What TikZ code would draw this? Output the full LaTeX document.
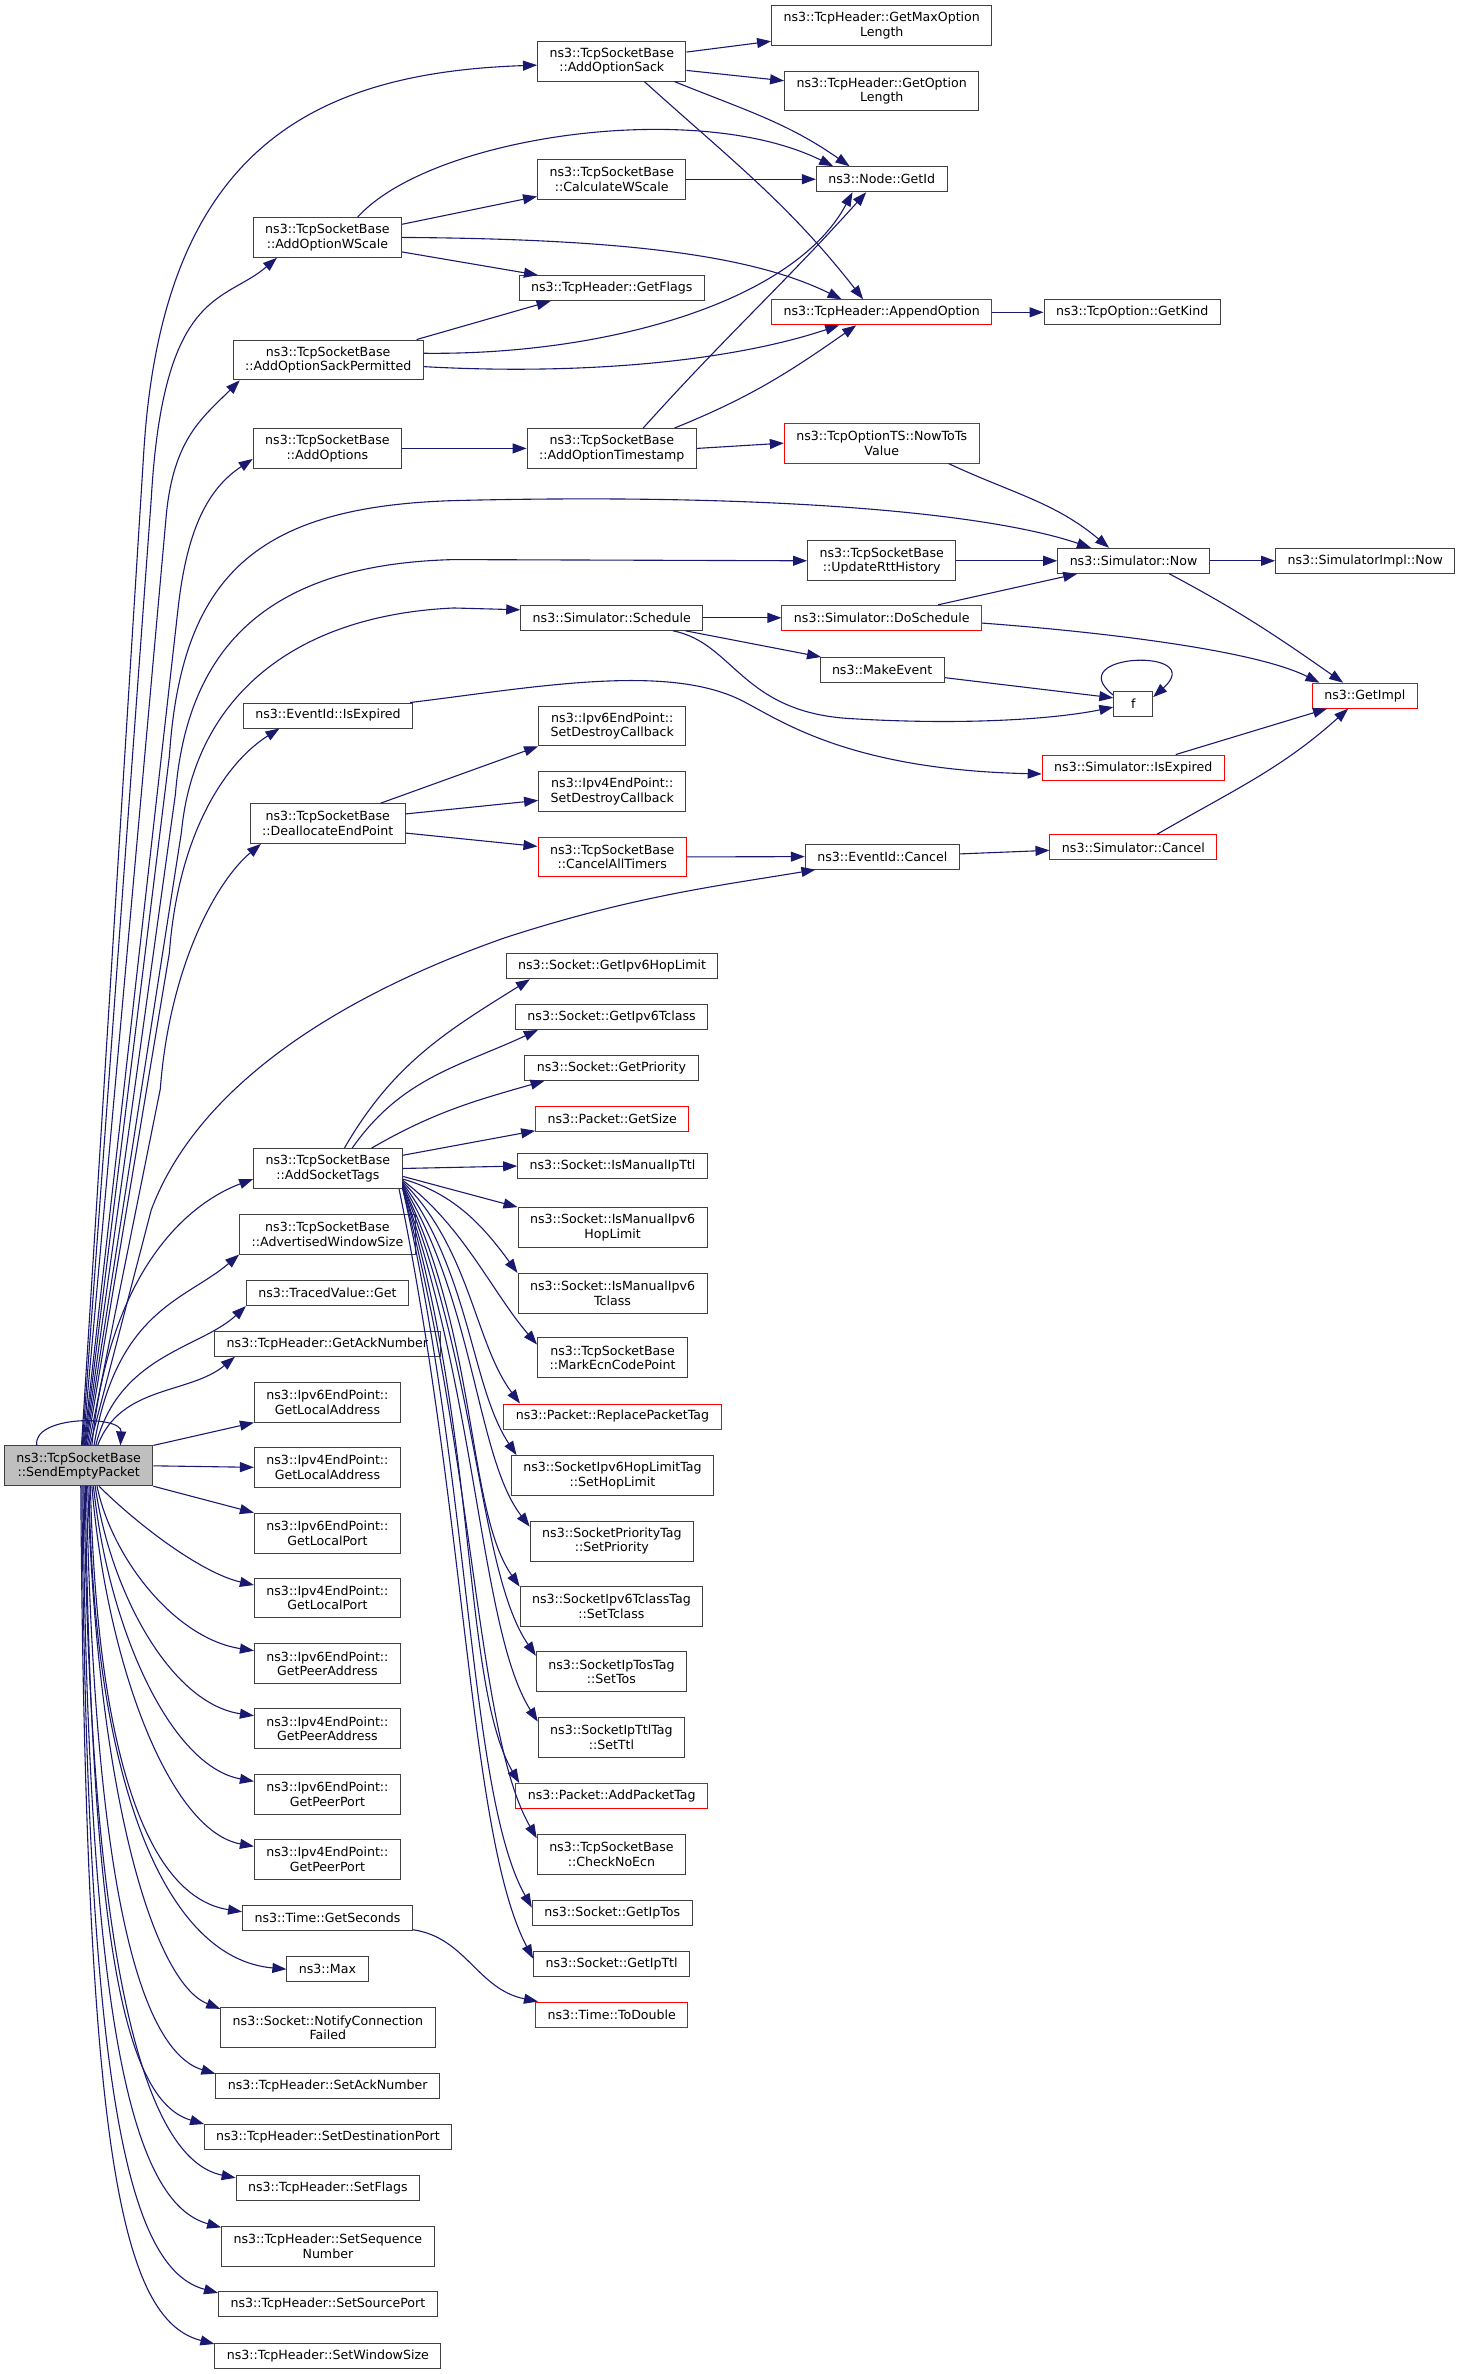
\documentclass[tikz,border=0pt]{standalone}
\usepackage{fontspec}
\setmainfont{DejaVu Sans}
\usetikzlibrary{arrows.meta}
\definecolor{edgeblue}{HTML}{191970}
\definecolor{boxline}{HTML}{404040}
\definecolor{rootfill}{HTML}{BFBFBF}
\newcommand{\fnfont}{\fontsize{6.3pt}{7.25pt}\selectfont}
\begin{document}
\begin{tikzpicture}[
		x=0.756pt,y=0.756pt,
		fn/.style={draw=boxline,line width=0.5pt,font=\fnfont,align=center,inner xsep=6pt,inner ysep=3pt,minimum height=12.5pt},
		fnred/.style={fn,draw=red},
		fnroot/.style={fn,fill=rootfill},
		two/.style={minimum height=19.9pt},
		call/.style={draw=edgeblue,line width=0.55pt,-{Triangle[length=7pt,width=5pt]}}
	]
	\useasboundingbox (0,0) rectangle (966.3,-1569.7);
	\node[fnroot,two] (send) at (52,-969.2) {ns3::TcpSocketBase\\::SendEmptyPacket};

	\node[fn,two] (wscale) at (216.5,-157) {ns3::TcpSocketBase\\::AddOptionWScale};
	\node[fn,two] (sackperm) at (217,-238) {ns3::TcpSocketBase\\::AddOptionSackPermitted};
	\node[fn,two] (addopts) at (216.5,-296.5) {ns3::TcpSocketBase\\::AddOptions};
	\node[fn] (isexp) at (216.9,-473.1) {ns3::EventId::IsExpired};
	\node[fn,two] (dealloc) at (216.7,-544.5) {ns3::TcpSocketBase\\::DeallocateEndPoint};
	\node[fn,two] (socktags) at (216.8,-772.6) {ns3::TcpSocketBase\\::AddSocketTags};
	\node[fn,two] (advwin) at (216.5,-816) {ns3::TcpSocketBase\\::AdvertisedWindowSize};
	\node[fn] (traced) at (216.5,-855) {ns3::TracedValue::Get};
	\node[fn] (getack) at (216.5,-888.5) {ns3::TcpHeader::GetAckNumber};
	\node[fn,two] (v6laddr) at (216.5,-927.1) {ns3::Ipv6EndPoint::\\GetLocalAddress};
	\node[fn,two] (v4laddr) at (216.5,-970.2) {ns3::Ipv4EndPoint::\\GetLocalAddress};
	\node[fn,two] (v6lport) at (216.5,-1013.7) {ns3::Ipv6EndPoint::\\GetLocalPort};
	\node[fn,two] (v4lport) at (216.5,-1056.6) {ns3::Ipv4EndPoint::\\GetLocalPort};
	\node[fn,two] (v6paddr) at (216.5,-1100) {ns3::Ipv6EndPoint::\\GetPeerAddress};
	\node[fn,two] (v4paddr) at (216.5,-1143) {ns3::Ipv4EndPoint::\\GetPeerAddress};
	\node[fn,two] (v6pport) at (216.5,-1186.4) {ns3::Ipv6EndPoint::\\GetPeerPort};
	\node[fn,two] (v4pport) at (216.5,-1229.4) {ns3::Ipv4EndPoint::\\GetPeerPort};
	\node[fn] (getsec) at (216.5,-1268) {ns3::Time::GetSeconds};
	\node[fn] (max) at (216.5,-1302) {ns3::Max};
	\node[fn,two] (notify) at (216.8,-1340.8) {ns3::Socket::NotifyConnection\\Failed};
	\node[fn] (setack) at (216.7,-1379) {ns3::TcpHeader::SetAckNumber};
	\node[fn] (setdst) at (216.8,-1413) {ns3::TcpHeader::SetDestinationPort};
	\node[fn] (setflags) at (216.8,-1446.4) {ns3::TcpHeader::SetFlags};
	\node[fn,two] (setseq) at (216.8,-1485.2) {ns3::TcpHeader::SetSequence\\Number};
	\node[fn] (setsrc) at (216.8,-1523.7) {ns3::TcpHeader::SetSourcePort};
	\node[fn] (setwin) at (216.8,-1557.7) {ns3::TcpHeader::SetWindowSize};

	\node[fn,two] (sack) at (404.5,-40.5) {ns3::TcpSocketBase\\::AddOptionSack};
	\node[fn,two] (calcws) at (404.5,-118.5) {ns3::TcpSocketBase\\::CalculateWScale};
	\node[fn] (getflags) at (404.5,-190.5) {ns3::TcpHeader::GetFlags};
	\node[fn,two] (optts) at (404.5,-296.5) {ns3::TcpSocketBase\\::AddOptionTimestamp};
	\node[fn] (sched) at (404.5,-408.5) {ns3::Simulator::Schedule};
	\node[fn,two] (v6destroy) at (404.8,-480) {ns3::Ipv6EndPoint::\\SetDestroyCallback};
	\node[fn,two] (v4destroy) at (404.8,-523.2) {ns3::Ipv4EndPoint::\\SetDestroyCallback};
	\node[fnred,two] (cancelall) at (404.8,-566.6) {ns3::TcpSocketBase\\::CancelAllTimers};
	\node[fn] (hoplim) at (404.7,-638.9) {ns3::Socket::GetIpv6HopLimit};
	\node[fn] (tclass) at (404.4,-672.4) {ns3::Socket::GetIpv6Tclass};
	\node[fn] (prio) at (404.3,-706) {ns3::Socket::GetPriority};
	\node[fnred] (getsize) at (404.8,-739.6) {ns3::Packet::GetSize};
	\node[fn] (manttl) at (405,-771) {ns3::Socket::IsManualIpTtl};
	\node[fn,two] (manhop) at (405,-811.5) {ns3::Socket::IsManualIpv6\\HopLimit};
	\node[fn,two] (mantcl) at (405,-855) {ns3::Socket::IsManualIpv6\\Tclass};
	\node[fn,two] (markecn) at (405,-897.8) {ns3::TcpSocketBase\\::MarkEcnCodePoint};
	\node[fnred] (replace) at (405,-936.6) {ns3::Packet::ReplacePacketTag};
	\node[fn,two] (sethop) at (405,-975.6) {ns3::SocketIpv6HopLimitTag\\::SetHopLimit};
	\node[fn,two] (setprio) at (404.6,-1019) {ns3::SocketPriorityTag\\::SetPriority};
	\node[fn,two] (settcl) at (404.3,-1062) {ns3::SocketIpv6TclassTag\\::SetTclass};
	\node[fn,two] (settos) at (404.3,-1105.4) {ns3::SocketIpTosTag\\::SetTos};
	\node[fn,two] (setttl) at (404.3,-1148.7) {ns3::SocketIpTtlTag\\::SetTtl};
	\node[fnred] (addtag) at (404.5,-1187.5) {ns3::Packet::AddPacketTag};
	\node[fn,two] (noecn) at (404.3,-1226) {ns3::TcpSocketBase\\::CheckNoEcn};
	\node[fn] (iptos) at (404.8,-1265) {ns3::Socket::GetIpTos};
	\node[fn] (ipttl) at (404.4,-1298.7) {ns3::Socket::GetIpTtl};
	\node[fnred] (todouble) at (404.5,-1332) {ns3::Time::ToDouble};

	\node[fn,two] (maxlen) at (583,-17) {ns3::TcpHeader::GetMaxOption\\Length};
	\node[fn,two] (optlen) at (583,-60.2) {ns3::TcpHeader::GetOption\\Length};
	\node[fn] (nodeid) at (583,-118.5) {ns3::Node::GetId};
	\node[fnred] (append) at (583,-206.5) {ns3::TcpHeader::AppendOption};
	\node[fnred,two] (nowts) at (583,-293) {ns3::TcpOptionTS::NowToTs\\Value};
	\node[fn,two] (rtt) at (583,-370.8) {ns3::TcpSocketBase\\::UpdateRttHistory};
	\node[fnred] (dosched) at (583,-408.5) {ns3::Simulator::DoSchedule};
	\node[fn] (mkevent) at (583.3,-443) {ns3::MakeEvent};
	\node[fn] (evcancel) at (583.4,-566.4) {ns3::EventId::Cancel};

	\node[fn] (getkind) at (748.6,-206.5) {ns3::TcpOption::GetKind};
	\node[fn] (now) at (749.5,-370.8) {ns3::Simulator::Now};
	\node[fn,minimum width=19.4pt] (f) at (749.3,-465.2) {f};
	\node[fnred] (simexp) at (749.3,-507.5) {ns3::Simulator::IsExpired};
	\node[fnred] (simcancel) at (749.4,-560.3) {ns3::Simulator::Cancel};
	\node[fn] (implnow) at (902.7,-370.8) {ns3::SimulatorImpl::Now};
	\node[fnred] (getimpl) at (902.4,-460) {ns3::GetImpl};

	\draw[call] (send.154) .. controls +(-3,20) and +(1,20) .. (send.26);
	\draw[call] (send.82) -- (95,-300) .. controls +(12,200) and +(-150,-5) .. (sack.183);
	\draw[call] (send.80) -- (100,-330) .. controls +(8,140) and +(-35,-30) .. (wscale.202);
	\draw[call] (send.78) -- (110,-340) .. controls +(5,50) and +(-25,-25) .. (sackperm.193);
	\draw[call] (send.76) -- (118,-400) .. controls +(6,50) and +(-30,-20) .. (addopts.188);
	\draw[call] (send.74) -- (112,-500) .. controls (120,-380) and (170,-335) .. (300,-331) .. controls (500,-326) and (650,-338) .. (now.163);
	\draw[call] (send.72) -- (116,-525) .. controls (124,-425) and (180,-373) .. (300,-370) -- (rtt.west);
	\draw[call] (send.70) -- (120,-550) .. controls (128,-465) and (190,-407) .. (300,-402) -- (sched.175);
	\draw[call] (send.67) -- (112,-630) .. controls +(6,80) and +(-35,-22) .. (isexp.195);
	\draw[call] (send.64) -- (106,-720) .. controls +(6,80) and +(-30,-25) .. (dealloc.197);
	\draw[call] (send.61) -- (100,-800) .. controls (130,-720) and (220,-660) .. (334,-620) .. controls (420,-592) and (480,-585) .. (evcancel.191);
	\draw[call] (send.57) .. controls +(12,120) and +(-40,-15) .. (socktags.188);
	\draw[call] (send.53) .. controls +(15,90) and +(-35,-30) .. (advwin.south west);
	\draw[call] (send.50) .. controls +(15,60) and +(-30,-28) .. (traced.south west);
	\draw[call] (send.47) .. controls +(15,40) and +(-30,-25) .. (getack.188);
	\draw[call] (send.north east) -- (v6laddr.south west);
	\draw[call] (send.east) -- (v4laddr.west);
	\draw[call] (send.south east) -- (v6lport.north west);
	\draw[call] (send.-45) .. controls +(25,-25) and +(-35,8) .. (v4lport.170);
	\draw[call] (send.-48) .. controls +(10,-48) and +(-52,8) .. (v6paddr.170);
	\draw[call] (send.-51) .. controls +(10,-70) and +(-55,8) .. (v4paddr.170);
	\draw[call] (send.-54) .. controls +(10,-95) and +(-55,10) .. (v6pport.170);
	\draw[call] (send.-57) .. controls +(10,-120) and +(-55,10) .. (v4pport.170);
	\draw[call] (send.-60) .. controls +(4,-170) and +(-65,10) .. (getsec.176);
	\draw[call] (send.-63) .. controls +(3,-197) and +(-80,7) .. (max.west);
	\draw[call] (send.-66) .. controls +(6,-200) and +(-45,18) .. (notify.170);
	\draw[call] (send.-69) .. controls +(5,-255) and +(-52,16) .. (setack.174);
	\draw[call] (send.-72) .. controls +(4,-290) and +(-55,16) .. (setdst.174);
	\draw[call] (send.-75) .. controls +(4,-320) and +(-60,12) .. (setflags.174);
	\draw[call] (send.-78) .. controls +(3,-360) and +(-58,16) .. (setseq.170);
	\draw[call] (send.-81) .. controls +(3,-400) and +(-60,16) .. (setsrc.174);
	\draw[call] (send.-84) .. controls +(3,-440) and +(-62,16) .. (setwin.174);

	\draw[call] (sack.7) -- (maxlen.188);
	\draw[call] (sack.-7) -- (optlen.174);
	\draw[call] (sack.-18) to[out=-22,in=145] (nodeid.158);
	\draw[call] (sack.-32) to[out=-42,in=128] (append.145);
	\draw[call] (wscale.34) .. controls (285,-90) and (460,-65) .. (nodeid.165);
	\draw[call] (wscale.10) -- (calcws.193);
	\draw[call] (wscale.east) .. controls (420,-158) and (500,-170) .. (append.162);
	\draw[call] (wscale.-11) -- (getflags.170);
	\draw[call] (calcws.east) -- (nodeid.west);
	\draw[call] (sackperm.13) -- (getflags.192);
	\draw[call] (sackperm.4) .. controls (400,-235) and (525,-200) .. (nodeid.204);
	\draw[call] (sackperm.-4) .. controls (380,-248) and (480,-240) .. (append.197);
	\draw[call] (addopts.east) -- (optts.west);
	\draw[call] (optts.33) to[out=48,in=228] (nodeid.220);
	\draw[call] (optts.18) to[out=22,in=215] (append.207);
	\draw[call] (optts.east) -- (nowts.west);
	\draw[call] (append.east) -- (getkind.west);
	\draw[call] (nowts.-17) to[out=-25,in=140] (now.152);
	\draw[call] (rtt.east) -- (now.west);
	\draw[call] (now.east) -- (implnow.west);
	\draw[call] (now.-20) to[out=-28,in=145] (getimpl.149);
	\draw[call] (sched.east) -- (dosched.west);
	\draw[call] (sched.-10) -- (mkevent.168);
	\draw[call] (sched.-12) .. controls (485,-425) and (490,-470) .. (560,-475) .. controls (640,-480) and (700,-475) .. (f.190);
	\draw[call] (mkevent.-7) -- (f.164);
	\draw[call] (f.157) .. controls +(-36,28) and +(37,33) .. (f.18);
	\draw[call] (dosched.13) -- (now.193);
	\draw[call] (dosched.-3) .. controls (730,-418) and (830,-430) .. (getimpl.164);
	\draw[call] (isexp.9) .. controls (350,-455) and (440,-438) .. (490,-463) .. controls (515,-475.5) and (560,-509) .. (simexp.184);
	\draw[call] (simexp.17) -- (getimpl.199);
	\draw[call] (simcancel.29) to[out=30,in=222] (getimpl.218);
	\draw[call] (dealloc.21) -- (v6destroy.south west);
	\draw[call] (dealloc.7) -- (v4destroy.187);
	\draw[call] (dealloc.-7) -- (cancelall.172);
	\draw[call] (cancelall.east) -- (evcancel.west);
	\draw[call] (evcancel.2) -- (simcancel.182);

	\draw[call] (socktags.51) to[out=60,in=212] (hoplim.189);
	\draw[call] (socktags.40) to[out=55,in=205] (tclass.190);
	\draw[call] (socktags.25) to[out=30,in=196] (prio.191);
	\draw[call] (socktags.10) -- (getsize.189);
	\draw[call] (socktags.east) -- (manttl.west);
	\draw[call] (socktags.-6) -- (manhop.168);
	\draw[call] (socktags.-8) .. controls +(35,-10) and +(-22,30) .. (mantcl.168);
	\draw[call] (socktags.-9) .. controls +(40,-30) and +(-30,35) .. (markecn.170);
	\draw[call] (socktags.-10) .. controls +(45,-45) and +(-30,40) .. (replace.172);
	\draw[call] (socktags.-11) .. controls +(45,-60) and +(-30,45) .. (sethop.168);
	\draw[call] (socktags.-12) .. controls +(48,-80) and +(-35,45) .. (setprio.170);
	\draw[call] (socktags.-13) .. controls +(50,-100) and +(-35,50) .. (settcl.168);
	\draw[call] (socktags.-13) .. controls +(50,-120) and +(-38,55) .. (settos.168);
	\draw[call] (socktags.-14) .. controls +(50,-140) and +(-38,60) .. (setttl.168);
	\draw[call] (socktags.-14) .. controls +(50,-160) and +(-38,65) .. (addtag.172);
	\draw[call] (socktags.-15) .. controls +(48,-180) and +(-40,70) .. (noecn.168);
	\draw[call] (socktags.-15) .. controls +(46,-200) and +(-42,75) .. (iptos.176);
	\draw[call] (socktags.-16) .. controls +(45,-220) and +(-42,80) .. (ipttl.176);
	\draw[call] (getsec.-8) .. controls +(35,-5) and +(-40,8) .. (todouble.170);
\end{tikzpicture}
\end{document}
